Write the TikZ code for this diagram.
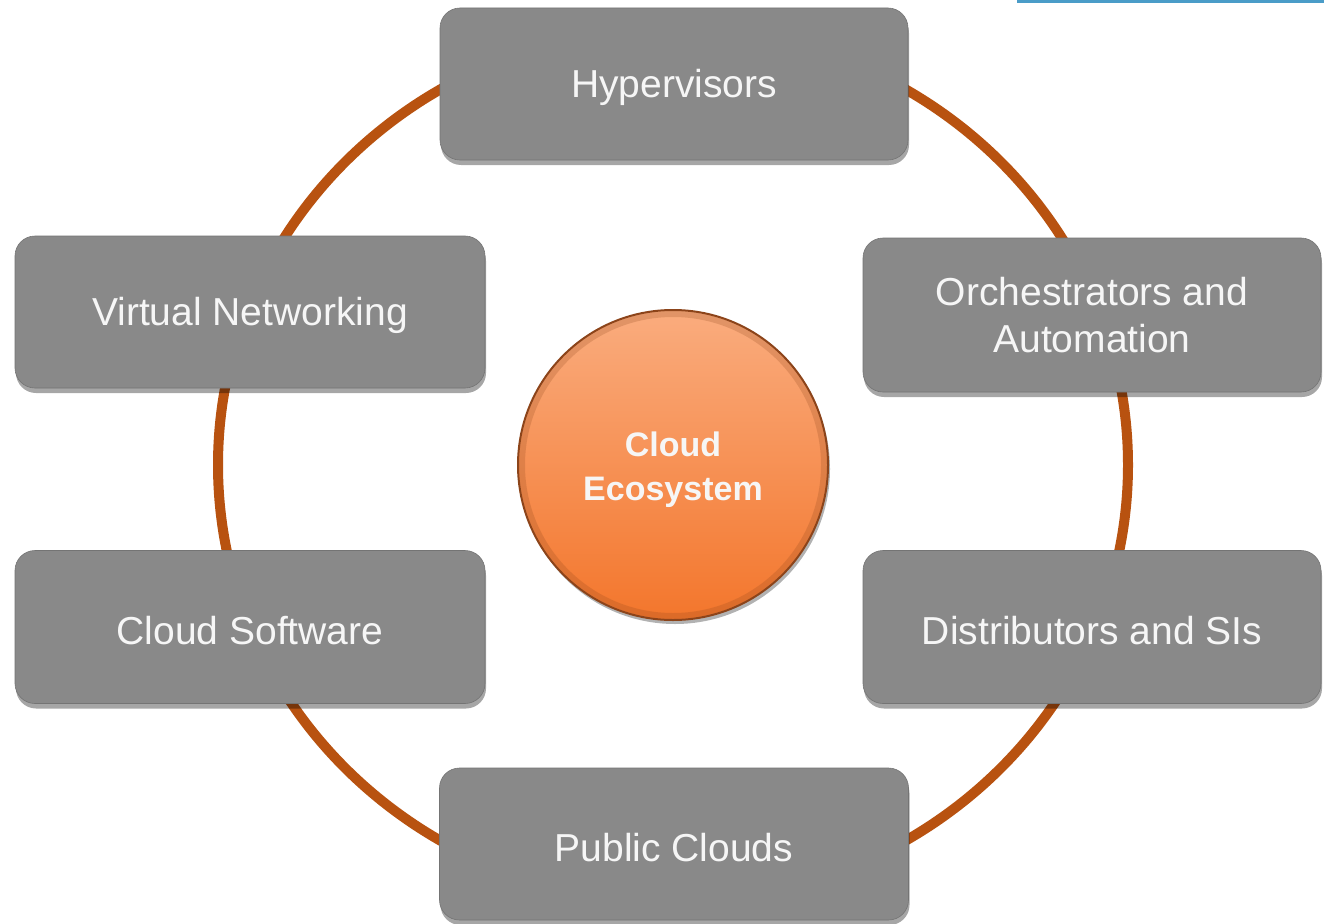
\documentclass[tikz,border=0pt]{standalone}
\usepackage{fontspec}
\setmainfont{Liberation Sans}
\usetikzlibrary{shadows}
\definecolor{ringc}{RGB}{184,82,16}
\definecolor{boxgray}{RGB}{137,137,137}
\definecolor{boxtext}{RGB}{246,246,246}
\definecolor{orlight}{RGB}{250,172,126}
\definecolor{ordark}{RGB}{243,118,44}
\definecolor{orrim}{RGB}{140,68,26}
\definecolor{topblue}{RGB}{74,156,200}
\newcommand{\tallstrut}[1]{\rule{0pt}{#1pt}}
\tikzset{
  itembox/.style={rectangle, rounded corners=20pt, fill=boxgray, draw=boxgray!85!black, line width=0.6pt,
    text=boxtext, font=\fontsize{39}{47}\selectfont, align=center, inner sep=0pt,
    drop shadow={shadow xshift=1pt, shadow yshift=-5pt, opacity=0.35, fill=black}},
  hub/.style={circle, minimum size=310pt, inner sep=0pt, top color=orlight, bottom color=ordark,
    draw=orrim, line width=2pt, text=boxtext, font=\fontsize{34}{44}\selectfont\bfseries, align=center,
    drop shadow={shadow xshift=2pt, shadow yshift=-4pt, opacity=0.3, fill=black}},
  hubrim/.style={draw=orrim, line width=6pt, opacity=0.22},
  ringline/.style={draw=ringc, line width=10pt},
  bluebar/.style={draw=topblue, line width=3pt}
}
\begin{document}
\begin{tikzpicture}[x=1pt,y=-1pt]
\useasboundingbox (0,0) rectangle (1324,923);
\clip (0,0) rectangle (1324,923);
\fill[white] (0,0) rectangle (1324,923);
\coordinate (ctr) at (673,465);
\coordinate (blueA) at (1017,1.5);
\coordinate (blueB) at (1324,1.5);
\draw[bluebar] (blueA) -- (blueB);
\draw[ringline] (ctr) ellipse[x radius=455, y radius=437];
\node[itembox, minimum width=468pt, minimum height=152pt] (hyp) at (674,84) {\tallstrut{35}Hypervisors};
\node[itembox, minimum width=470pt, minimum height=152pt] (vn) at (250,312) {\tallstrut{35}Virtual Networking};
\node[itembox, minimum width=458pt, minimum height=154pt] (orch) at (1092,315) {Orchestrators and\\Automation};
\node[itembox, minimum width=470pt, minimum height=153pt] (cs) at (250,627) {\tallstrut{35}Cloud Software};
\node[itembox, minimum width=458pt, minimum height=153pt] (dist) at (1092,627) {\tallstrut{35}Distributors and SIs};
\node[itembox, minimum width=469pt, minimum height=152pt] (pc) at (674,844) {\tallstrut{35}Public Clouds};
\node[hub] (eco) at (ctr) {\tallstrut{34}Cloud\\Ecosystem};
\draw[hubrim] (eco.center) circle[radius=151];
\end{tikzpicture}
\end{document}
